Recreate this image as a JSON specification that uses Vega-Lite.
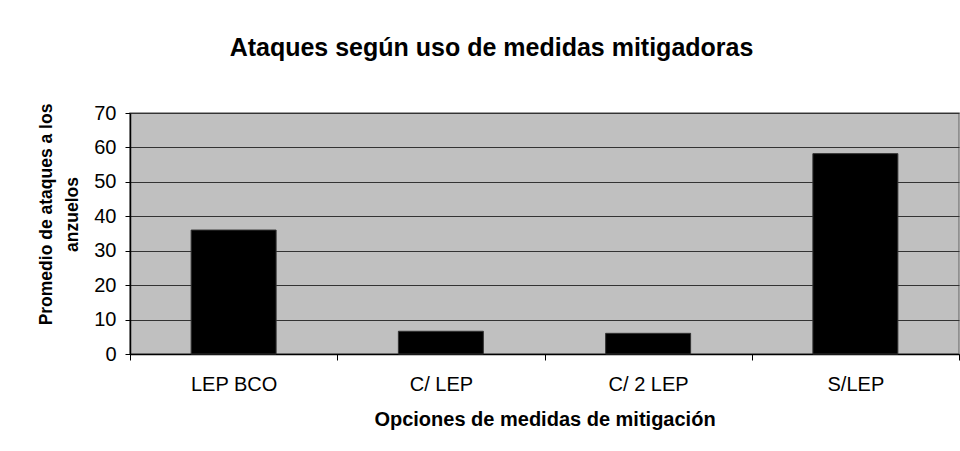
{
  "$schema": "https://vega.github.io/schema/vega-lite/v6.json",
  "autosize": {"type": "none"},
  "padding": {"left": 130, "top": 113, "right": 1, "bottom": 97},
  "width": 829,
  "height": 241,
  "background": "white",
  "title": {
    "text": "Ataques según uso de medidas mitigadoras",
    "font": "Liberation Sans",
    "fontSize": 25,
    "fontWeight": "bold",
    "color": "black",
    "anchor": "middle",
    "frame": "group",
    "baseline": "alphabetic",
    "offset": 22,
    "dx": -53
  },
  "data": {
    "values": [
      {"opcion": "LEP BCO", "promedio": 36},
      {"opcion": "C/ LEP", "promedio": 6.6},
      {"opcion": "C/ 2 LEP", "promedio": 6},
      {"opcion": "S/LEP", "promedio": 58.2}
    ]
  },
  "mark": {"type": "bar", "color": "black", "stroke": "#333333", "strokeWidth": 1, "width": {"band": 0.41}},
  "encoding": {
    "x": {
      "field": "opcion",
      "type": "nominal",
      "sort": null,
      "scale": {"paddingInner": 0, "paddingOuter": 0},
      "axis": {
        "title": "Opciones de medidas de mitigación",
        "titleFont": "Liberation Sans",
        "titleFontSize": 20,
        "titleFontWeight": "bold",
        "titleColor": "black",
        "titleBaseline": "alphabetic",
        "titleY": 71,
        "labelAngle": 0,
        "labelFont": "Liberation Sans",
        "labelFontSize": 20,
        "labelColor": "black",
        "labelPadding": 14,
        "tickBand": "extent",
        "tickSize": 6,
        "tickColor": "black",
        "domainColor": "black",
        "domainWidth": 1.5,
        "grid": false
      }
    },
    "y": {
      "field": "promedio",
      "type": "quantitative",
      "scale": {"domain": [0, 70], "nice": false},
      "axis": {
        "title": ["Promedio de ataques a los", "anzuelos"],
        "titleFont": "Liberation Sans",
        "titleFontSize": 17.5,
        "titleFontWeight": "bold",
        "titleColor": "black",
        "titleAngle": -90,
        "titleAlign": "center",
        "titleBaseline": "alphabetic",
        "titleLineHeight": 26,
        "titleX": -79,
        "titleY": 101,
        "values": [0, 10, 20, 30, 40, 50, 60, 70],
        "labelFont": "Liberation Sans",
        "labelFontSize": 20,
        "labelColor": "black",
        "labelPadding": 9,
        "tickSize": 5,
        "tickColor": "black",
        "domainColor": "black",
        "domainWidth": 1.5,
        "grid": true,
        "gridColor": "#333333",
        "gridWidth": 1
      }
    }
  },
  "config": {
    "view": {"fill": "#C0C0C0", "stroke": "#808080", "strokeWidth": 1.5}
  }
}
